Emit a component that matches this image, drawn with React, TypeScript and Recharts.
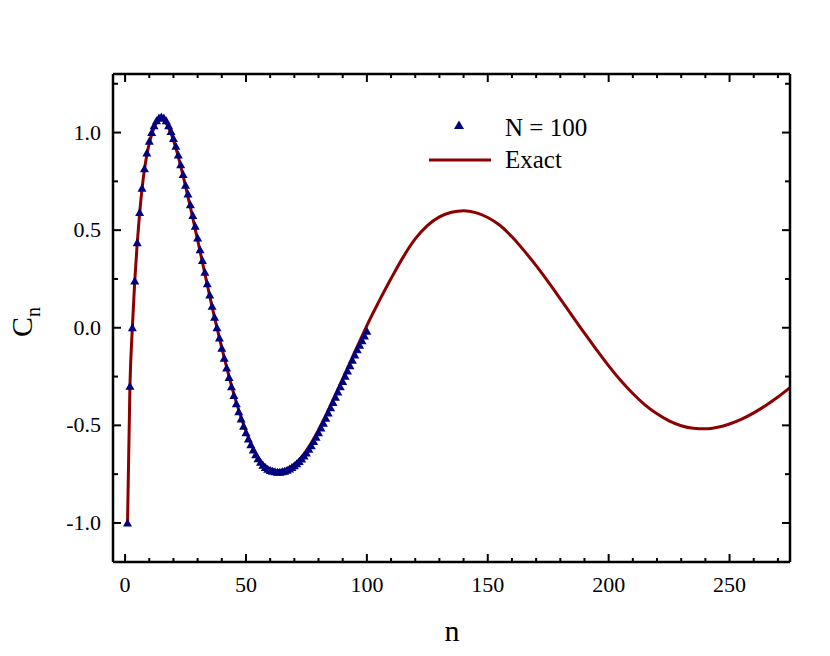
import { ComposedChart, Line, Scatter, XAxis, YAxis } from "recharts";

// exact curve
const exactN = [
  1, 2, 3, 4, 5, 6, 7, 8, 9, 10, 11, 12, 13, 14, 15, 16, 17, 18, 19, 20,
  21, 22, 23, 24, 25, 26, 27, 28, 29, 30, 31, 32, 33, 34, 35, 36, 37, 38, 39, 40,
  41, 42, 43, 44, 45, 46, 47, 48, 49, 50, 51, 52, 53, 54, 55, 56, 57, 58, 59, 60,
  61, 62, 63, 64, 65, 66, 67, 68, 69, 70, 71, 72, 73, 74, 75, 76, 77, 78, 79, 80,
  81, 82, 83, 84, 85, 86, 87, 88, 89, 90, 91, 92, 93, 94, 95, 96, 97, 98, 99, 100,
  105, 110, 115, 120, 125, 130, 135, 140, 145, 150, 155, 160, 165, 170, 175, 180,
  185, 190, 195, 200, 205, 210, 215, 220, 225, 230, 235, 240, 245, 250, 255, 260,
  265, 270, 275,
];
const exactC = [
  -1.0, -0.3, 0.0, 0.24, 0.43, 0.585, 0.71, 0.81, 0.885, 0.945, 0.99, 1.025, 1.05, 1.064, 1.068, 1.062, 1.047, 1.024, 0.995, 0.96,
  0.92, 0.876, 0.828, 0.778, 0.726, 0.672, 0.618, 0.563, 0.505, 0.45, 0.392, 0.335, 0.277, 0.22, 0.163, 0.107, 0.052, 0.0, -0.052, -0.103,
  -0.153, -0.202, -0.25, -0.296, -0.34, -0.382, -0.422, -0.46, -0.496, -0.53, -0.562, -0.591, -0.618, -0.642, -0.663, -0.681, -0.695, -0.707, -0.716, -0.722,
  -0.727, -0.73, -0.731, -0.731, -0.73, -0.727, -0.722, -0.716, -0.708, -0.699, -0.688, -0.676, -0.662, -0.646, -0.629, -0.61, -0.59, -0.569, -0.547, -0.523,
  -0.499, -0.474, -0.449, -0.423, -0.397, -0.37, -0.343, -0.316, -0.289, -0.262, -0.234, -0.207, -0.179, -0.152, -0.124, -0.097, -0.07, -0.043, -0.016, 0.011,
  0.135, 0.252, 0.362, 0.455, 0.523, 0.568, 0.592, 0.6, 0.59, 0.565, 0.525, 0.466, 0.395, 0.318, 0.235, 0.148,
  0.06, -0.028, -0.113, -0.195, -0.27, -0.337, -0.395, -0.441, -0.477, -0.502, -0.515, -0.518, -0.51, -0.493, -0.468, -0.436,
  -0.398, -0.355, -0.307,
];

// N = 100 points (triangles), n = 1..100
const discreteC = [
  -1.0, -0.3, 0.0, 0.24, 0.435, 0.59, 0.715, 0.815, 0.895, 0.955,
  1.0, 1.035, 1.06, 1.075, 1.08, 1.075, 1.06, 1.035, 1.005, 0.97,
  0.93, 0.885, 0.835, 0.785, 0.73, 0.685, 0.63, 0.575, 0.52, 0.46,
  0.4, 0.345, 0.285, 0.225, 0.168, 0.11, 0.054, 0.0, -0.053, -0.105,
  -0.156, -0.206, -0.255, -0.302, -0.347, -0.389, -0.43, -0.468, -0.504, -0.538,
  -0.57, -0.599, -0.626, -0.65, -0.671, -0.689, -0.704, -0.716, -0.725, -0.731,
  -0.735, -0.738, -0.74, -0.74, -0.738, -0.735, -0.73, -0.724, -0.716, -0.707,
  -0.697, -0.685, -0.672, -0.657, -0.641, -0.623, -0.604, -0.583, -0.561, -0.538,
  -0.514, -0.489, -0.463, -0.437, -0.41, -0.383, -0.356, -0.329, -0.302, -0.275,
  -0.248, -0.221, -0.194, -0.167, -0.14, -0.113, -0.09, -0.066, -0.042, -0.018,
];

const xTicks = [0, 10, 20, 30, 40, 50, 60, 70, 80, 90, 100, 110, 120, 130, 140, 150, 160, 170, 180, 190, 200, 210, 220, 230, 240, 250, 260, 270];
const yTicks = [-1.0, -0.75, -0.5, -0.25, 0.0, 0.25, 0.5, 0.75, 1.0, 1.25];

const exactData = exactN.map((n, i) => ({ n, c: exactC[i] }));
const discreteData = discreteC.map((c, i) => ({ n: i + 1, c }));

const FONT = "Liberation Serif, Times New Roman, serif";
const RED = "#8b0000";
const NAVY = "#000080";

const isMajorX = (v: number) => v % 50 === 0;
const isMajorY = (v: number) => Math.abs(v * 2 - Math.round(v * 2)) < 1e-6;

function BottomTick(props: any) {
  const { x, y, payload } = props;
  const major = isMajorX(payload.value);
  return (
    <g>
      <line x1={x} x2={x} y1={y} y2={y - (major ? 8 : 4)} stroke="#000" strokeWidth={2} />
      {major && (
        <text x={x} y={y + 30} textAnchor="middle" fontSize={22} fontFamily={FONT} fill="#000">
          {payload.value}
        </text>
      )}
    </g>
  );
}

function TopTick(props: any) {
  const { x, y, payload } = props;
  const major = isMajorX(payload.value);
  return <line x1={x} x2={x} y1={y} y2={y + (major ? 8 : 4)} stroke="#000" strokeWidth={2} />;
}

function LeftTick(props: any) {
  const { x, y, payload } = props;
  const major = isMajorY(payload.value);
  return (
    <g>
      <line x1={x} x2={x + (major ? 8 : 5)} y1={y} y2={y} stroke="#000" strokeWidth={2} />
      {major && (
        <text x={x - 12} y={y + 7} textAnchor="end" fontSize={22} fontFamily={FONT} fill="#000">
          {payload.value.toFixed(1)}
        </text>
      )}
    </g>
  );
}

function RightTick(props: any) {
  const { x, y, payload } = props;
  const major = isMajorY(payload.value);
  return <line x1={x} x2={x - (major ? 8 : 5)} y1={y} y2={y} stroke="#000" strokeWidth={2} />;
}

function Triangle(props: any) {
  const { cx, cy } = props;
  return <polygon points={`${cx},${cy - 4.5} ${cx - 4.5},${cy + 3.5} ${cx + 4.5},${cy + 3.5}`} fill={NAVY} />;
}

function Nothing() {
  return <g />;
}

function XTitle() {
  return (
    <text x={452} y={641} textAnchor="middle" fontSize={30} fontFamily={FONT} fill="#000">
      n
    </text>
  );
}

function YTitle() {
  return (
    <text x={32} y={337} transform="rotate(-90, 32, 337)" fontSize={30} fontFamily={FONT} fill="#000">
      C
      <tspan fontSize={20} dy={8}>n</tspan>
    </text>
  );
}

export default function App() {
  return (
    <div style={{ position: "absolute", left: 0, top: 0, width: 830, height: 656, background: "#fff" }}>
      <ComposedChart width={830} height={656} margin={{ top: 73, right: 39, left: 0, bottom: 0 }}>
        <XAxis
          xAxisId="bottom"
          dataKey="n"
          type="number"
          orientation="bottom"
          domain={[-5, 275]}
          allowDataOverflow
          ticks={xTicks}
          interval={0}
          height={94}
          tickSize={0}
          tickMargin={0}
          tickLine={false}
          tick={<BottomTick />}
          axisLine={{ stroke: "#000", strokeWidth: 2.5 }}
          label={<XTitle />}
        />
        <XAxis
          xAxisId="top"
          dataKey="n"
          type="number"
          orientation="top"
          domain={[-5, 275]}
          allowDataOverflow
          ticks={xTicks}
          interval={0}
          height={1}
          tickSize={0}
          tickMargin={0}
          tickLine={false}
          tick={<TopTick />}
          axisLine={{ stroke: "#000", strokeWidth: 2.5 }}
        />
        <YAxis
          yAxisId="left"
          dataKey="c"
          type="number"
          domain={[-1.2, 1.3]}
          allowDataOverflow
          ticks={yTicks}
          interval={0}
          width={113}
          tickSize={0}
          tickMargin={0}
          tickLine={false}
          tick={<LeftTick />}
          axisLine={{ stroke: "#000", strokeWidth: 2.5 }}
          label={<YTitle />}
        />
        <YAxis
          yAxisId="right"
          dataKey="c"
          orientation="right"
          type="number"
          domain={[-1.2, 1.3]}
          allowDataOverflow
          ticks={yTicks}
          interval={0}
          width={1}
          tickSize={0}
          tickMargin={0}
          tickLine={false}
          tick={<RightTick />}
          axisLine={{ stroke: "#000", strokeWidth: 2.5 }}
        />
        {/* invisible series so the top and right frame axes get a scale */}
        <Scatter
          xAxisId="top"
          yAxisId="right"
          data={discreteData}
          dataKey="c"
          shape={<Nothing />}
          legendType="none"
          isAnimationActive={false}
        />
        <Scatter
          xAxisId="bottom"
          yAxisId="left"
          data={discreteData}
          dataKey="c"
          shape={<Triangle />}
          isAnimationActive={false}
        />
        <Line
          xAxisId="bottom"
          yAxisId="left"
          data={exactData}
          dataKey="c"
          type="monotone"
          stroke={RED}
          strokeWidth={3}
          dot={false}
          activeDot={false}
          isAnimationActive={false}
        />
      </ComposedChart>
      <svg
        width={830}
        height={656}
        style={{ position: "absolute", left: 0, top: 0, pointerEvents: "none" }}
      >
        <polygon points="459,120.5 454,129 464,129" fill={NAVY} />
        <text x={505} y={135.5} fontSize={25} fontFamily={FONT} fill="#000">
          N = 100
        </text>
        <line x1={429} x2={491} y1={160} y2={160} stroke={RED} strokeWidth={3} />
        <text x={505} y={168} fontSize={25} fontFamily={FONT} fill="#000">
          Exact
        </text>
      </svg>
    </div>
  );
}
